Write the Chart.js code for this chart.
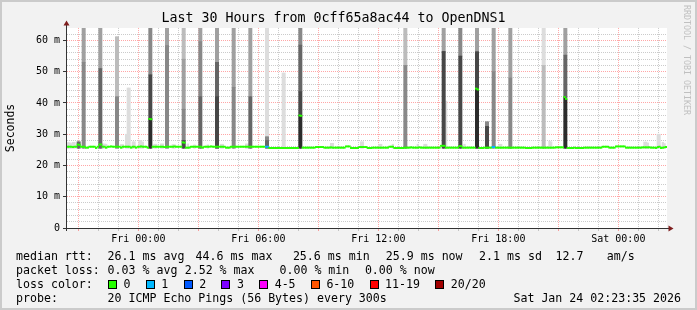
<!DOCTYPE html>
<html lang="en">
<head>
  <meta charset="UTF-8">
  <title>Last 30 Hours from 0cff65a8ac44 to OpenDNS1</title>
  <script src="https://cdn.jsdelivr.net/npm/chart.js"></script>
  <style>
    body { margin: 0; background: #fff; }
    #frame { position: relative; width: 697px; height: 310px; background: #f2f2f2; overflow: hidden;
             font-family: 'DejaVu Sans Mono', monospace; }
    #chart { position: absolute; left: 0; top: 0; }
    .edge { position: absolute; left: 0; top: 0; right: 0; bottom: 0; border: 2px solid #cbcbcb; pointer-events: none; }
    .leg { position: absolute; font-size: 11.6px; line-height: 14px; white-space: pre; color: #000; }
    .box { display: inline-block; width: 9px; height: 9px; box-sizing: border-box; border: 1px solid #000;
           vertical-align: -1px; margin-right: 6.6px; }
    .lvl { margin-right: 15.2px; }
    #credit { position: absolute; left: 682px; top: 5px; writing-mode: vertical-rl; font-size: 8.3px;
              line-height: 9px; color: #c0c0c0; white-space: pre; }
  </style>
</head>
<body>
  <div id="frame">
    <canvas id="chart" width="697" height="310"></canvas>
    <div id="credit">RRDTOOL / TOBI OETIKER</div>

    <div class="leg" style="top:249px;left:16px">median rtt:</div>
    <div class="leg" style="top:249px;left:107.6px">26.1 ms avg</div>
    <div class="leg" style="top:249px;left:195.6px">44.6 ms max</div>
    <div class="leg" style="top:249px;left:292.9px">25.6 ms min</div>
    <div class="leg" style="top:249px;left:385.8px">25.9 ms now</div>
    <div class="leg" style="top:249px;left:479.1px">2.1 ms sd</div>
    <div class="leg" style="top:249px;left:555.6px">12.7</div>
    <div class="leg" style="top:249px;left:606.7px">am/s</div>

    <div class="leg" style="top:263px;left:16px">packet loss:</div>
    <div class="leg" style="top:263px;left:107.6px">0.03 % avg</div>
    <div class="leg" style="top:263px;left:184.7px">2.52 % max</div>
    <div class="leg" style="top:263px;left:279.5px">0.00 % min</div>
    <div class="leg" style="top:263px;left:364.9px">0.00 % now</div>

    <div class="leg" style="top:277px;left:16px">loss color:</div>
    <div class="leg" id="lossItems" style="top:277px;left:108px"></div>

    <div class="leg" style="top:291px;left:16px">probe:</div>
    <div class="leg" style="top:291px;left:107.6px">20 ICMP Echo Pings (56 Bytes) every 300s</div>
    <div class="leg" style="top:291px;right:16px">Sat Jan 24 02:23:35 2026</div>

    <div class="edge"></div>
  </div>

  <script>
    // median rtt per 5 minute sample (ms), 24 samples = 2 hours per row
    const medianRtt = [
      26.0, 26.0, 26.0, 25.9, 26.0, 26.0, 26.7, 26.6, 26.0, 26.0, 26.0, 25.7, 25.7, 26.0, 26.0, 26.0, 26.0, 25.6, 26.0, 26.7, 26.7, 26.0, 26.0, 25.7,
      26.0, 26.0, 26.1, 26.0, 26.0, 26.0, 26.0, 26.0, 25.7, 26.0, 26.0, 26.0, 26.0, 26.0, 25.7, 26.0, 26.0, 25.7, 26.0, 26.0, 26.1, 26.0, 26.0, 26.0,
      25.7, 34.9, 34.8, 26.0, 26.0, 26.0, 26.0, 26.0, 26.0, 26.0, 25.9, 26.0, 26.0, 26.0, 26.0, 26.0, 26.1, 26.0, 26.0, 26.0, 26.0, 27.4, 27.3, 25.7,
      25.7, 25.7, 26.0, 26.0, 26.0, 26.0, 26.0, 26.0, 26.0, 25.7, 26.0, 26.0, 26.0, 26.0, 26.1, 26.0, 26.0, 26.0, 26.0, 26.0, 26.0, 26.0, 26.0, 25.7,
      25.7, 25.7, 26.0, 26.0, 26.0, 26.0, 26.0, 26.0, 26.0, 26.0, 26.0, 26.0, 26.0, 26.0, 26.0, 26.0, 26.0, 26.0, 26.0, 26.0, 26.0, 26.0, 26.0, 26.0,
      26.0, 25.6, 25.6, 25.6, 25.6, 25.6, 25.6, 25.6, 25.6, 25.6, 25.6, 25.6, 25.6, 25.6, 25.6, 25.6, 25.6, 25.6, 25.6, 36.0, 35.9, 25.7, 25.7, 25.7,
      25.7, 25.7, 25.7, 25.7, 25.7, 25.9, 25.9, 25.9, 25.9, 25.9, 25.7, 25.7, 25.7, 25.7, 25.8, 25.7, 25.7, 25.7, 25.7, 25.7, 25.7, 25.7, 25.7, 26.1,
      26.1, 26.1, 25.6, 25.6, 25.6, 25.6, 25.6, 25.9, 25.9, 25.9, 25.9, 25.9, 25.6, 25.6, 25.6, 25.7, 25.7, 25.7, 25.7, 25.7, 25.7, 25.7, 25.7, 25.7,
      25.7, 26.0, 26.0, 26.0, 25.6, 25.6, 25.6, 25.6, 25.6, 25.6, 25.7, 25.7, 25.7, 25.7, 25.8, 25.7, 25.7, 25.7, 25.7, 25.8, 25.7, 25.7, 25.7, 25.7,
      25.7, 25.7, 25.7, 25.7, 25.7, 25.7, 25.7, 25.7, 26.3, 26.3, 26.3, 25.7, 25.7, 25.7, 25.7, 25.7, 25.7, 25.7, 25.7, 26.2, 26.2, 25.7, 25.7, 25.7,
      25.7, 25.7, 25.7, 25.7, 25.7, 44.6, 44.3, 25.6, 25.6, 25.6, 25.7, 25.7, 25.7, 25.7, 25.7, 25.9, 25.9, 25.7, 25.7, 25.7, 25.7, 25.7, 25.7, 25.7,
      25.7, 25.7, 25.7, 25.7, 25.7, 25.7, 25.7, 25.7, 25.7, 25.7, 25.7, 25.6, 25.6, 25.6, 25.6, 25.7, 25.7, 25.7, 25.7, 25.7, 25.7, 25.7, 25.7, 25.7,
      25.7, 25.7, 25.7, 25.7, 25.7, 25.8, 25.8, 25.8, 25.8, 25.8, 41.9, 41.3, 25.6, 25.6, 25.6, 25.6, 25.7, 25.6, 25.6, 25.6, 25.6, 25.6, 25.7, 25.7,
      25.7, 25.7, 25.7, 25.7, 25.7, 25.7, 25.7, 25.7, 25.7, 26.0, 26.0, 26.0, 26.0, 25.7, 25.7, 25.7, 25.7, 26.1, 26.1, 26.1, 26.1, 26.1, 26.1, 25.7,
      25.7, 25.7, 25.7, 25.7, 25.7, 25.7, 25.7, 25.7, 25.7, 25.8, 25.8, 25.8, 25.8, 25.8, 25.7, 25.7, 25.7, 25.6, 25.9, 26.0, 25.6, 25.7, 25.8, 25.9
    ];

    // samples with lost pings (out of 20)
    const lossSamples = [119, 120, 255, 256];
    const lossPings = [1, 1, 1, 1];

    // smoke bands: [sample, low ms, high ms], one list per grey shade (light to dark)
    const smoke1 = [
      [0, 25.5, 27.3], [1, 25.5, 27.3], [2, 25.5, 27.0], [3, 25.5, 27.4], [4, 25.5, 27.4],
      [21, 25.5, 26.9], [22, 25.5, 26.9], [23, 25.5, 26.8], [32, 25.5, 26.7], [33, 25.5, 26.7],
      [35, 25.5, 30.0], [36, 25.5, 44.8], [37, 25.5, 44.8], [39, 25.5, 27.6], [40, 25.5, 27.6],
      [43, 25.5, 28.0], [44, 25.5, 28.0], [45, 25.5, 27.5], [52, 25.5, 26.8], [53, 25.5, 26.8],
      [56, 25.5, 26.9], [57, 25.5, 26.9], [63, 25.5, 26.7], [64, 25.5, 26.7], [72, 25.5, 26.9],
      [76, 25.5, 26.6], [84, 25.5, 26.6], [92, 25.5, 26.8], [93, 25.5, 26.8], [107, 25.5, 26.9],
      [108, 25.5, 26.9], [119, 29.2, 64], [120, 29.2, 64], [129, 25.5, 49.6], [130, 25.5, 49.6],
      [158, 25.5, 27.1], [159, 25.5, 27.1], [176, 25.5, 27.6], [177, 25.5, 27.6], [187, 25.5, 26.8],
      [188, 25.5, 26.8], [195, 25.5, 26.8], [210, 25.5, 26.8], [214, 25.5, 26.8], [215, 25.5, 26.8],
      [227, 25.5, 40.6], [238, 25.5, 26.8], [259, 25.5, 26.8], [260, 25.5, 26.8], [285, 52, 64],
      [286, 52, 64], [289, 25.5, 27.8], [290, 25.5, 27.6], [346, 25.5, 27.5], [347, 25.5, 27.5],
      [348, 25.5, 27.2], [354, 25.5, 30.0], [355, 25.5, 30.0], [357, 25.5, 27.4], [358, 25.5, 27.0]
    ];
    const smoke2 = [
      [29, 42, 61.2], [30, 42, 61.2], [69, 54, 64], [70, 54, 64], [202, 52, 64], [203, 52, 64],
      [285, 25.5, 52], [286, 25.5, 52]
    ];
    const smoke3 = [
      [9, 53, 64], [10, 53, 64], [19, 51, 64], [20, 51, 64], [59, 58.4, 64], [60, 58.4, 64],
      [69, 38, 54], [70, 38, 54], [79, 59.6, 64], [80, 59.6, 64], [89, 53, 64], [90, 53, 64],
      [99, 45, 64], [100, 45, 64], [109, 42, 64], [110, 42, 64], [225, 56.5, 64], [226, 56.5, 64],
      [245, 56.4, 64], [246, 56.4, 64], [255, 50, 64], [256, 50, 64], [265, 48, 64], [266, 48, 64],
      [298, 55.3, 64], [299, 55.3, 64]
    ];
    const smoke4 = [
      [9, 25.5, 53], [10, 25.5, 53], [29, 25.5, 42], [30, 25.5, 42], [49, 49, 64], [50, 49, 64],
      [59, 25.5, 58.4], [60, 25.5, 58.4], [69, 28, 38], [70, 28, 38], [79, 42, 59.6], [80, 42, 59.6],
      [99, 25.5, 45], [100, 25.5, 45], [119, 28, 29.2], [120, 28, 29.2], [139, 58.5, 64], [140, 58.5, 64],
      [202, 25.5, 52], [203, 25.5, 52], [235, 55, 64], [236, 55, 64], [251, 32.5, 34], [252, 32.5, 34],
      [255, 25.5, 50], [256, 25.5, 50], [265, 25.5, 48], [266, 25.5, 48]
    ];
    const smoke5 = [
      [6, 25.5, 27.6], [7, 25.5, 27.6], [19, 25.5, 51], [20, 25.5, 51], [79, 25.5, 42], [80, 25.5, 42],
      [89, 42, 53], [90, 42, 53], [109, 25.5, 42], [110, 25.5, 42], [119, 25.5, 28], [120, 25.5, 28],
      [139, 43.6, 58.5], [140, 43.6, 58.5], [298, 41.7, 55.3], [299, 41.7, 55.3]
    ];
    const smoke6 = [
      [49, 34.9, 49], [50, 34.9, 49], [69, 25.5, 28], [70, 25.5, 28], [89, 25.5, 42], [90, 25.5, 42],
      [139, 36, 43.6], [140, 36, 43.6], [225, 25.5, 56.5], [226, 25.5, 56.5], [235, 25.5, 55], [236, 25.5, 55],
      [245, 44.6, 56.4], [246, 44.6, 56.4], [251, 25.5, 32.5], [252, 25.5, 32.5]
    ];
    const smoke7 = [
      [49, 25.5, 34.9], [50, 25.5, 34.9], [139, 25.5, 36], [140, 25.5, 36],
      [245, 25.5, 44.6], [246, 25.5, 44.3], [298, 25.5, 41.7], [299, 25.5, 41.3]
    ];

    // time axis, minutes from the left edge of the graph
    const spanMinutes = 1800;
    const firstHourMinute = 34;
    const timeTickMinutes = [214, 574, 934, 1294, 1654];
    const timeTickLabels = ['Fri 00:00', 'Fri 06:00', 'Fri 12:00', 'Fri 18:00', 'Sat 00:00'];

    const lossLevels = ['0', '1', '2', '3', '4-5', '6-10', '11-19', '20/20'];
    const lossColors = ['#26ff00', '#00b8ff', '#0059ff', '#7e00ff', '#ff00ff', '#ff5500', '#ff0000', '#a10000'];

    const MONO = "'DejaVu Sans Mono', monospace";
    const MAJOR = 'rgba(255,0,0,0.35)';
    const MINOR = 'rgba(140,140,140,0.45)';
    const sampleMinutes = 5;
    const lineHalf = 0.2;
    const toX = i => sampleMinutes * i + sampleMinutes / 2;

    function lossBucket(lost) {
      if (lost <= 3) return lost;
      if (lost <= 5) return 4;
      if (lost <= 10) return 5;
      if (lost <= 19) return 6;
      return 7;
    }
    function lostAt(i) {
      const k = lossSamples.indexOf(i);
      return k < 0 ? 0 : lossPings[k];
    }
    const band = rows => rows.map(([i, lo, hi]) => ({ x: toX(i), y: [lo, hi] }));

    // legend boxes
    const items = document.getElementById('lossItems');
    lossLevels.forEach((lv, k) => {
      const b = document.createElement('span');
      b.className = 'box';
      b.style.background = lossColors[k];
      const t = document.createElement('span');
      t.className = 'lvl';
      t.textContent = lv;
      items.appendChild(b);
      items.appendChild(t);
    });

    const hourTicks = [];
    for (let m = firstHourMinute; m < spanMinutes; m += 60) hourTicks.push(m);
    const isMajorHour = c => c.tick && (c.tick.value - firstHourMinute) % 180 === 0;
    const isMajorMs = c => c.tick && c.tick.value % 10 === 0;

    const plotBack = {
      id: 'plotBack',
      beforeDraw(chart) {
        const { ctx, chartArea: a } = chart;
        ctx.save();
        ctx.fillStyle = '#ffffff';
        ctx.fillRect(a.left, a.top, a.right - a.left, a.bottom - a.top);
        ctx.restore();
      }
    };
    const axes = {
      id: 'axes',
      afterDatasetsDraw(chart) {
        const { ctx, chartArea: a } = chart;
        ctx.save();
        ctx.strokeStyle = '#333333';
        ctx.lineWidth = 1;
        ctx.beginPath();
        ctx.moveTo(a.left - 0.5, a.bottom + 3);
        ctx.lineTo(a.left - 0.5, a.top - 3);
        ctx.moveTo(a.left - 4, a.bottom + 0.5);
        ctx.lineTo(a.right + 2, a.bottom + 0.5);
        ctx.stroke();
        ctx.fillStyle = '#7f1f1f';
        ctx.beginPath();
        ctx.moveTo(a.left - 0.5, a.top - 7.5);
        ctx.lineTo(a.left - 3.5, a.top - 2.5);
        ctx.lineTo(a.left + 2.5, a.top - 2.5);
        ctx.closePath();
        ctx.fill();
        ctx.beginPath();
        ctx.moveTo(a.right + 6.5, a.bottom + 0.5);
        ctx.lineTo(a.right + 1.5, a.bottom - 2.5);
        ctx.lineTo(a.right + 1.5, a.bottom + 3.5);
        ctx.closePath();
        ctx.fill();
        ctx.restore();
      }
    };

    const shade = (data, color) => ({ data: band(data), backgroundColor: color });

    new Chart(document.getElementById('chart'), {
      type: 'bar',
      data: {
        datasets: [
          {
            data: medianRtt.map((v, i) => ({ x: toX(i), y: [v - lineHalf, v + lineHalf] })),
            backgroundColor: ctx => lossColors[lossBucket(lostAt(ctx.dataIndex))]
          },
          shade(smoke7, '#2c2c2c'),
          shade(smoke6, '#484848'),
          shade(smoke5, '#666666'),
          shade(smoke4, '#888888'),
          shade(smoke3, '#a0a0a0'),
          shade(smoke2, '#bcbcbc'),
          shade(smoke1, '#dddddd')
        ]
      },
      options: {
        responsive: false,
        animation: false,
        events: [],
        layout: { padding: { left: 0, right: 30, top: 0, bottom: 0 } },
        datasets: { bar: { grouped: false, barPercentage: 1, categoryPercentage: 1, borderWidth: 0 } },
        plugins: {
          legend: { display: false },
          tooltip: { enabled: false },
          title: {
            display: true,
            text: 'Last 30 Hours from 0cff65a8ac44 to OpenDNS1',
            color: '#000',
            font: { family: MONO, size: 13.3, weight: 'normal', lineHeight: 1.2 },
            padding: { top: 11, bottom: 1 }
          }
        },
        scales: {
          x: {
            type: 'linear',
            offset: false,
            min: 0,
            max: spanMinutes,
            afterFit: s => { s.height = 82; },
            afterBuildTicks: s => { s.ticks = hourTicks.map(v => ({ value: v })); },
            ticks: {
              autoSkip: false,
              maxRotation: 0,
              padding: 2,
              color: '#000',
              font: { family: MONO, size: 10 },
              callback: v => {
                const k = timeTickMinutes.indexOf(v);
                return k < 0 ? '' : timeTickLabels[k];
              }
            },
            grid: {
              offset: false,
              lineWidth: 1,
              tickLength: 3,
              color: c => isMajorHour(c) ? MAJOR : MINOR,
              tickColor: c => isMajorHour(c) ? MAJOR : MINOR
            },
            border: { display: false, dash: [1, 1] }
          },
          y: {
            min: 0,
            max: 64,
            afterFit: s => { s.width = 67; },
            afterBuildTicks: s => {
              const t = [];
              for (let v = 0; v < 64; v += 2) t.push({ value: v });
              s.ticks = t;
            },
            ticks: {
              autoSkip: false,
              padding: 3,
              color: '#000',
              font: { family: MONO, size: 10 },
              callback: v => v % 10 !== 0 ? '' : (v === 0 ? '0' : v + ' m')
            },
            grid: {
              lineWidth: 1,
              tickLength: 4,
              color: c => isMajorMs(c) ? MAJOR : MINOR,
              tickColor: c => isMajorMs(c) ? '#333333' : 'rgba(0,0,0,0)'
            },
            border: { display: false, dash: [1, 1] },
            title: {
              display: true,
              text: 'Seconds',
              color: '#000',
              font: { family: MONO, size: 11.5 },
              padding: { top: 4, bottom: 0 }
            }
          }
        }
      },
      plugins: [plotBack, axes]
    });
  </script>
</body>
</html>
